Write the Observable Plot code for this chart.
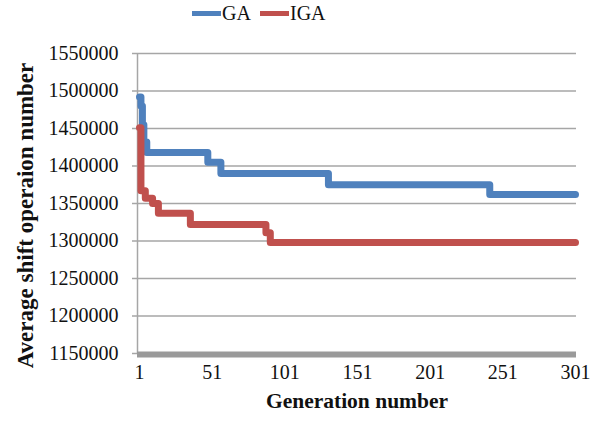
<!DOCTYPE html>
<html>
<head>
<meta charset="utf-8">
<script src="https://cdn.jsdelivr.net/npm/d3@7"></script>
<script src="https://cdn.jsdelivr.net/npm/@observablehq/plot@0.6"></script>
<style>
  body { margin: 0; background: #fff; font-family: "Liberation Serif", "Times New Roman", serif; }
  #legend { height: 28px; position: relative; font-size: 20px; color: #111; }
  #legend .item { position: absolute; top: 2px; display: flex; align-items: center; }
  #legend .sw { display: inline-block; width: 29px; height: 5px; margin-right: 1px; }
  #chart svg { font-family: "Liberation Serif", "Times New Roman", serif !important; }
</style>
</head>
<body>
<div id="legend"></div>
<div id="chart"></div>
<script>
// Data
const seriesNames = ["GA", "IGA"];
const seriesColors = ["#4f81bd", "#c0504d"];
const gaGen = [1, 2, 3, 4, 6, 48, 57, 131, 242, 301];
const gaVal = [1492000, 1480000, 1455000, 1432000, 1418000, 1405000, 1390000, 1375000, 1362000, 1362000];
const igaGen = [1, 2, 5, 10, 14, 36, 88, 91, 301];
const igaVal = [1451000, 1367000, 1357000, 1350000, 1337000, 1322000, 1311000, 1298000, 1298000];
const xTicks = [1, 51, 101, 151, 201, 251, 301];
const yTicks = [1150000, 1200000, 1250000, 1300000, 1350000, 1400000, 1450000, 1500000, 1550000];
const xTitle = "Generation number";
const yTitle = "Average shift operaion number";

const rows = [
  ...gaGen.map((g, i) => ({series: "GA", gen: g, value: gaVal[i]})),
  ...igaGen.map((g, i) => ({series: "IGA", gen: g, value: igaVal[i]}))
];

// Legend
const legend = document.getElementById("legend");
const legendPos = [192, 260];
seriesNames.forEach((name, i) => {
  const item = document.createElement("div");
  item.className = "item";
  item.style.left = legendPos[i] + "px";
  item.innerHTML = `<span class="sw" style="background:${seriesColors[i]}"></span><span>${name}</span>`;
  legend.appendChild(item);
});

const serif = "'Liberation Serif', 'Times New Roman', serif";
const gridColor = "#a6a6a6";
const chart = Plot.plot({
  width: 609,
  height: 397,
  marginLeft: 137,
  marginRight: 33,
  marginTop: 25,
  marginBottom: 72,
  style: {fontFamily: serif, fontSize: "20px", color: "#111", background: "#fff"},
  x: {domain: [1, 301], insetLeft: 2, insetRight: 1},
  y: {domain: [1150000, 1550000]},
  color: {domain: seriesNames, range: seriesColors},
  marks: [
    Plot.gridY(yTicks, {stroke: gridColor, strokeOpacity: 1, strokeWidth: 1.5}),
    Plot.axisY({ticks: yTicks, tickFormat: d => String(d), tickSize: 5, tickPadding: 14, stroke: gridColor, strokeWidth: 1.5, label: null, fontFamily: serif}),
    Plot.axisX({ticks: xTicks, tickFormat: d => String(d), tickSize: 0, tickPadding: 11, label: null, fontFamily: serif}),
    Plot.ruleX([1], {dx: -2, stroke: gridColor, strokeWidth: 1.5}),
    Plot.ruleY([1150000], {stroke: "#9a9a9a", strokeWidth: 6, dy: 1}),
    Plot.line(rows, {x: "gen", y: "value", z: "series", stroke: "series", curve: "step-after", strokeWidth: 7}),
    Plot.text([xTitle], {frameAnchor: "bottom", textAnchor: "middle", dy: 54, text: d => d, fontWeight: "bold", fontSize: 21.5, fontFamily: serif, fill: "#111"}),
    Plot.text([yTitle], {frameAnchor: "left", textAnchor: "middle", dx: -112, dy: 12, rotate: -90, text: d => d, fontWeight: "bold", fontSize: 23, fontFamily: serif, fill: "#111"})
  ]
});
document.getElementById("chart").appendChild(chart);
</script>
</body>
</html>
